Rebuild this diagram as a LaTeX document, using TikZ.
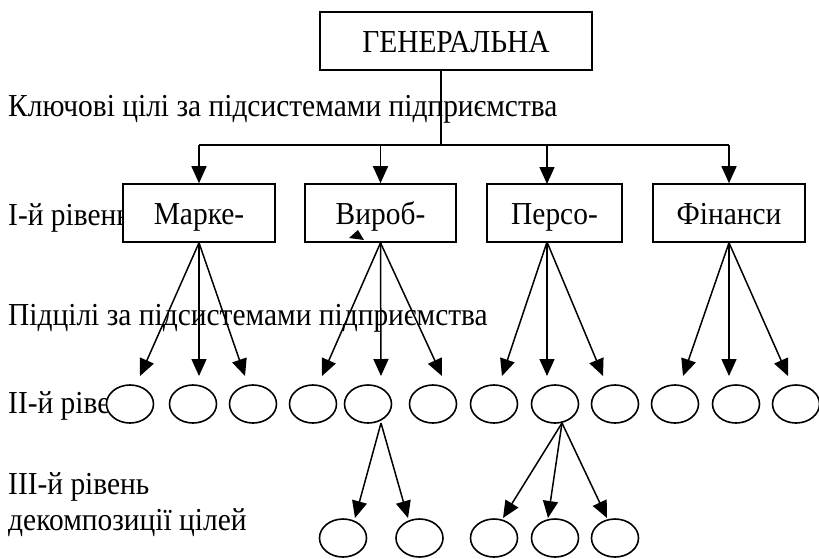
\documentclass[tikz,border=0pt]{standalone}
\usepackage{fontspec}
\setmainfont{Liberation Serif}[FakeStretch=0.92]
\usetikzlibrary{positioning,arrows.meta,shapes.geometric}

\tikzset{
    goalbox/.style={draw, fill=white, line width=1.6pt, minimum height=58pt, inner sep=0pt,
                    text height=24pt, text depth=2pt},
    subgoal/.style={draw, ellipse, fill=white, line width=1.6pt, minimum width=47pt, minimum height=38pt, inner sep=0pt},
    arr/.style={line width=1.5pt, -{Triangle[length=17pt,width=15pt]}},
    lbl/.style={anchor=base west, inner sep=0pt},
}

\begin{document}
\begin{tikzpicture}[x=1pt, y=-1pt, font=\fontsize{32}{38}\selectfont]
    \useasboundingbox (0,0) rectangle (819,558);

    % level captions
    \node[lbl] (cap0) at (8,116) {Ключові цілі за підсистемами підприємства};
    \node[lbl] (cap1) at (8,225) {І-й рівень};
    \node[lbl] (cap2) at (8,325) {Підцілі за підсистемами підприємства};
    \node[lbl] (cap3) at (8,413) {ІІ-й рівень};
    \node[lbl] (cap4) at (8,494) {ІІІ-й рівень};
    \node[lbl] (cap5) at (8,530) {декомпозиції цілей};

    % general goal and key goals
    \node[goalbox, minimum width=272pt] (gen)  at (456,41)    {ГЕНЕРАЛЬНА};
    \node[goalbox, minimum width=152pt] (mark) at (199,213)   {Марке-};
    \node[goalbox, minimum width=151pt] (vyr)  at (380.5,213) {Вироб-};
    \node[goalbox, minimum width=135pt] (pers) at (554.5,213) {Персо-};
    \node[goalbox, minimum width=152pt] (fin)  at (729,213)   {Фінанси};

    \coordinate (bus)  at (441,145);
    \coordinate (pin)  at (547,184);
    \coordinate (pout) at (547,242);

    \draw[line width=1.5pt] (gen.south -| bus) -- (bus);
    \draw[line width=1.5pt] (mark |- bus) -- (fin |- bus);
    \foreach \b in {mark,vyr,fin} {
        \draw[arr] (\b |- bus) -- (\b.north);
    }
    \draw[arr] (pin |- bus) -- (pin);

    % subgoals
    \foreach \src/\a/\b/\c in {mark.south/140/199/245, vyr.south/322/381/442,
                               pout/502/547/603, fin.south/683/729/788} {
        \foreach \t in {\a,\b,\c} {
            \coordinate (tip\t) at (\t,376);
            \draw[arr] (\src) -- (tip\t);
        }
    }
    \foreach \x [count=\i] in {130,193,253,313,368,433,494,555,615,675,736,796} {
        \node[subgoal] (s\i) at (\x,404) {};
    }

    % third level
    \foreach \x [count=\i] in {343,419.5,494,555,615} {
        \node[subgoal] (d\i) at (\x,538) {};
    }
    \coordinate (from1) at (381,423);
    \coordinate (from2) at (562,423);
    \foreach \t in {355,408} {
        \coordinate (low\t) at (\t,518);
        \draw[arr] (from1) -- (low\t);
    }
    \foreach \t in {503,548,607} {
        \coordinate (low\t) at (\t,518);
        \draw[arr] (from2) -- (low\t);
    }

    % stray tip
    \fill (349,238) -- (358,230) -- (364,240) -- cycle;
\end{tikzpicture}
\end{document}
